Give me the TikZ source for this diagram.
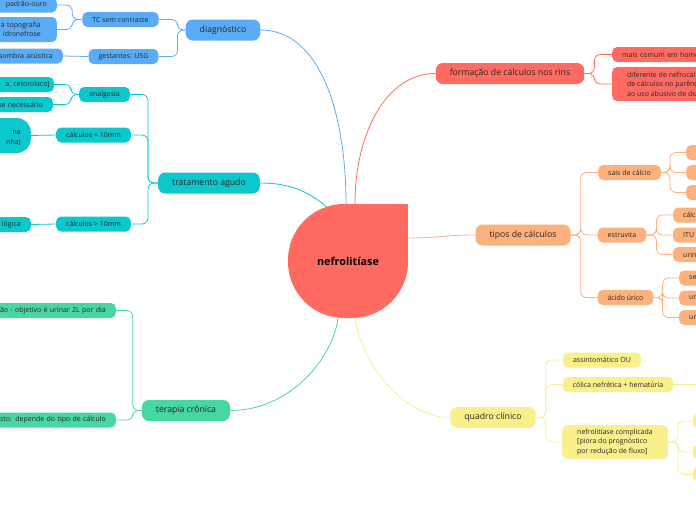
\documentclass[tikz,border=0pt]{standalone}
\usepackage{fontspec}
\setmainfont{Open Sans}
\usepackage{xcolor}
\usepackage{tikz}
\usetikzlibrary{positioning}
\definecolor{nfred}{HTML}{FF6B61}
\definecolor{dgblue}{HTML}{5BACF6}
\definecolor{trteal}{HTML}{0BC8CC}
\definecolor{tcgreen}{HTML}{47D7A0}
\definecolor{tporange}{HTML}{FDB17D}
\definecolor{qcyellow}{HTML}{F9F08B}

\begin{document}
\begin{tikzpicture}[
    x=1pt, y=-1pt,
    font=\fontsize{7}{9.5}\selectfont, text=black!85,
    main/.style={rounded corners=7pt, minimum height=21pt, inner xsep=14pt, inner ysep=0pt, font=\fontsize{8.7}{10}\selectfont},
    sub/.style={rounded corners=5pt, minimum height=15pt, inner xsep=10pt, inner ysep=0pt},
    lcut/.style={anchor=east, align=right, text width=#1},
    rcut/.style={anchor=west, align=left, text width=#1},
    link/.style={line width=0.8pt, rounded corners=6pt},
]
\useasboundingbox (0,0) rectangle (696,520);
\clip (0,0) rectangle (696,520);

% central node
\fill[nfred, rounded corners=56pt] (288,204) rectangle (408,318);
\fill[nfred] (348,204) rectangle (408,261);
\node[font=\bfseries\fontsize{10.8}{12}\selectfont, text=black] (core) at (348,261) {nefrolitíase};
\coordinate (c-diag) at (346,204);
\coordinate (c-form) at (355,204);
\coordinate (c-trat) at (327,207);
\coordinate (c-tipos) at (408,238);
\coordinate (c-terap) at (338,318);
\coordinate (c-quad) at (355,318);

% diagnostico
\node[main, fill=dgblue] (diag) at (223,30) {diagnóstico};
\node[sub, fill=dgblue] (tc) at (120.5,19.5) {TC sem contraste};
\node[sub, fill=dgblue] (usg) at (123.5,56.5) {gestantes: USG};
\node[sub, lcut=70pt, fill=dgblue] (pad) at (57,5) {padrão-ouro};
\node[sub, lcut=70pt, fill=dgblue, inner xsep=16pt, minimum height=25pt] (topo) at (57,29.5) {a topografia\\idronefrose};
\node[sub, lcut=80pt, fill=dgblue] (sombra) at (63,56) {sombra acústica};

% tratamento agudo
\node[main, fill=trteal] (trat) at (209,183) {tratamento agudo};
\node[sub, fill=trteal] (analg) at (104.5,94.5) {analgesia};
\node[sub, fill=trteal] (menor) at (93.5,135) {cálculos < 10mm};
\node[sub, fill=trteal] (maior) at (93.5,224) {cálculos > 10mm};
\node[sub, lcut=70pt, fill=trteal, inner xsep=4pt] (cetor) at (54,84.5) {a, cetorolaco]};
\node[sub, lcut=70pt, fill=trteal] (neces) at (53,104.5) {se necessário};
\node[sub, lcut=40pt, fill=trteal, rounded corners=14pt, minimum height=35pt] (na) at (31,135.5) {\mbox{}\\na\\nha)};
\node[sub, lcut=40pt, fill=trteal] (logica) at (31,224.5) {lógica};

% terapia cronica
\node[main, fill=tcgreen] (terap) at (186,410.5) {terapia crônica};
\node[sub, lcut=140pt, fill=tcgreen] (hidr) at (116,310.5) {ção - objetivo é urinar 2L por dia};
\node[sub, lcut=140pt, fill=tcgreen] (resto) at (116,420) {esto: depende do tipo de cálculo};

% formacao de calculos
\node[main, fill=nfred] (form) at (510,73.5) {formação de cálculos nos rins};
\node[sub, rcut=90pt, fill=nfred] (homem) at (612,54.5) {mais comum em home};
\node[sub, anchor=west, align=left, fill=nfred, inner xsep=15pt, minimum height=34pt] (difer) at (612,84) {diferente de nefrocal\\de cálculos no parênq\\ao uso abusivo de diu};

% tipos de calculos
\node[main, fill=tporange] (tipos) at (523,235) {tipos de cálculos};
\node[sub, fill=tporange] (sais) at (629.5,172.5) {sais de cálcio};
\node[sub, fill=tporange] (estru) at (622,235) {estruvita};
\node[sub, fill=tporange] (acido) at (625.5,297.5) {ácido úrico};
\foreach \n/\y in {1/152.5, 2/172.5, 3/192.5}
    \node[sub, rcut=30pt, fill=tporange] (sais\n) at (686,\y) {};
\foreach \n/\y/\t in {1/215/cálc, 2/235/ITU, 3/254.5/urin}
    \node[sub, rcut=30pt, fill=tporange] (estru\n) at (673,\y) {\t};
\foreach \n/\y/\t in {1/278/se, 2/298/ur, 3/317.5/ur}
    \node[sub, rcut=30pt, fill=tporange] (acido\n) at (679,\y) {\t};

% quadro clinico
\node[main, fill=qcyellow] (quad) at (493,417.5) {quadro clínico};
\node[sub, fill=qcyellow] (assint) at (602,360) {assintomático OU};
\node[sub, fill=qcyellow] (colica) at (618,384.5) {cólica nefrética + hematúria};
\node[sub, anchor=west, align=left, fill=qcyellow, inner xsep=15pt, minimum height=34pt] (compl) at (562,442) {nefrolitíase complicada\\{[}piora do prognóstico\\por redução de fluxo]};
\foreach \n/\y in {1/421, 2/452, 3/474.5}
    \node[sub, rcut=30pt, fill=qcyellow] (compl\n) at (693,\y) {};
\coordinate (colica-out) at (700,384.5);

% main branches
\draw[link, dgblue] (diag.east) .. controls +(60,0) and +(0,-90) .. (c-diag);
\draw[link, nfred] (form.west) .. controls +(-50,0) and +(0,-70) .. (c-form);
\draw[link, trteal] (trat.east) .. controls +(35,0) and +(-15,-12) .. (c-trat);
\draw[link, tporange] (tipos.west) .. controls +(-30,0) and +(30,0) .. (c-tipos);
\draw[link, tcgreen] (terap.east) .. controls +(60,0) and +(-5,40) .. (c-terap);
\draw[link, qcyellow] (quad.west) .. controls +(-50,0) and +(5,40) .. (c-quad);

% sub branches
\foreach \c in {tc,usg} \draw[link, dgblue] (diag.west) -- ++(-8,0) |- (\c.east);
\foreach \c in {pad,topo} \draw[link, dgblue] (tc.west) -- ++(-10,0) |- (\c.east);
\draw[link, dgblue] (usg.west) -- (sombra.east);
\foreach \c in {analg,menor,maior} \draw[link, trteal] (trat.west) -- ++(-10,0) |- (\c.east);
\foreach \c in {cetor,neces} \draw[link, trteal] (analg.west) -- ++(-8,0) |- (\c.east);
\draw[link, trteal] (menor.west) -- (na.east);
\draw[link, trteal] (maior.west) -- (logica.east);
\foreach \c in {hidr,resto} \draw[link, tcgreen] (terap.west) -- ++(-9,0) |- (\c.east);
\foreach \c in {homem,difer} \draw[link, nfred] (form.east) -- ++(10,0) |- (\c.west);
\foreach \c in {sais,estru,acido} \draw[link, tporange] (tipos.east) -- ++(10,0) |- (\c.west);
\foreach \c in {sais1,sais2,sais3} \draw[link, tporange] (sais.east) -- ++(9,0) |- (\c.west);
\foreach \c in {estru1,estru2,estru3} \draw[link, tporange] (estru.east) -- ++(10,0) |- (\c.west);
\foreach \c in {acido1,acido2,acido3} \draw[link, tporange] (acido.east) -- ++(9,0) |- (\c.west);
\foreach \c in {assint,colica,compl} \draw[link, qcyellow] (quad.east) -- ++(10,0) |- (\c.west);
\foreach \c in {compl1,compl2,compl3} \draw[link, qcyellow] (compl.east) -- ++(10,0) |- (\c.west);
\draw[link, qcyellow] (colica.east) -- (colica-out);

\end{tikzpicture}
\end{document}
